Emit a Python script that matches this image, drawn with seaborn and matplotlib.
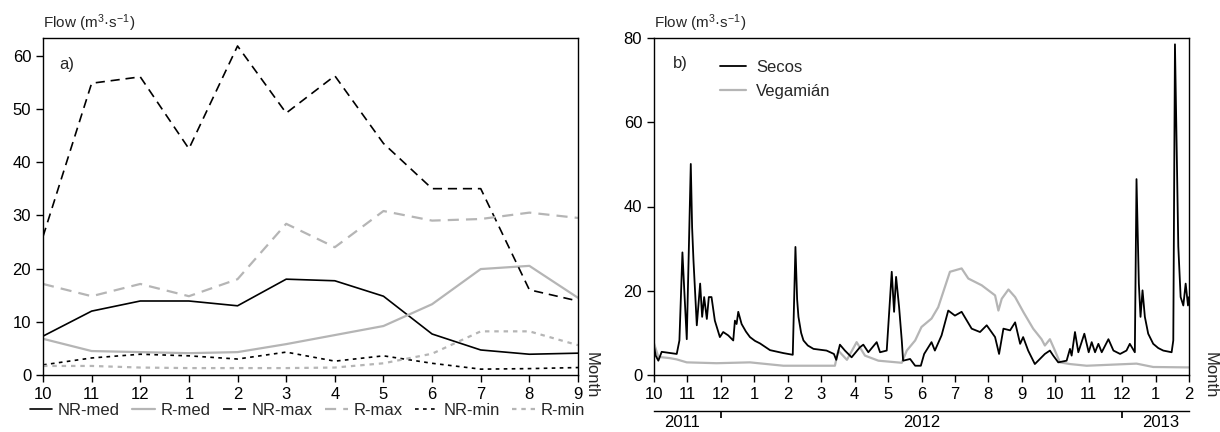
import numpy as np
import pandas as pd
import matplotlib
matplotlib.use("Agg")
import matplotlib.pyplot as plt
import seaborn as sns

# ---------------- data: panel a (monthly statistics) ----------------
month_labels_a = ["10", "11", "12", "1", "2", "3", "4", "5", "6", "7", "8", "9"]
nr_med = [7.3, 12.0, 13.9, 13.9, 13.0, 18.0, 17.7, 14.8, 7.7, 4.7, 3.9, 4.1]
r_med = [6.8, 4.5, 4.3, 4.1, 4.3, 5.8, 7.5, 9.2, 13.3, 19.9, 20.5, 14.5]
nr_max = [26.0, 54.8, 56.0, 42.5, 61.8, 49.2, 56.2, 43.5, 35.0, 35.0, 16.0, 13.9]
r_max = [17.1, 14.8, 17.1, 14.8, 18.0, 28.4, 24.0, 30.8, 29.0, 29.3, 30.5, 29.5]
nr_min = [1.9, 3.2, 3.9, 3.6, 3.0, 4.3, 2.6, 3.6, 2.2, 1.1, 1.2, 1.4]
r_min = [1.7, 1.7, 1.4, 1.3, 1.3, 1.3, 1.4, 2.2, 4.0, 8.2, 8.2, 5.6]

# ---------------- data: panel b (daily flows, months since Oct 2011) --------
month_labels_b = ["10", "11", "12", "1", "2", "3", "4", "5", "6", "7", "8",
                  "9", "10", "11", "12", "1", "2"]
secos_t = [0.00, 0.05, 0.13, 0.23, 0.68, 0.76, 0.85, 0.91, 0.98, 1.10, 1.14,
           1.18, 1.28, 1.38, 1.44, 1.50, 1.58, 1.64, 1.72, 1.82, 1.97, 2.07,
           2.22, 2.37, 2.42, 2.47, 2.52, 2.62, 2.75, 2.87, 3.02, 3.17, 3.47,
           3.87, 4.15, 4.23, 4.28, 4.32, 4.40, 4.47, 4.60, 4.77, 5.16, 5.38,
           5.45, 5.56, 5.71, 5.91, 6.16, 6.26, 6.41, 6.66, 6.76, 6.96, 7.11,
           7.18, 7.24, 7.33, 7.41, 7.45, 7.66, 7.81, 7.98, 8.08, 8.30, 8.40,
           8.60, 8.80, 9.00, 9.20, 9.50, 9.75, 9.95, 10.20, 10.32, 10.45,
           10.65, 10.80, 10.95, 11.04, 11.19, 11.39, 11.54, 11.69, 11.84,
           11.94, 12.09, 12.34, 12.44, 12.49, 12.59, 12.69, 12.87, 13.00,
           13.09, 13.19, 13.29, 13.39, 13.59, 13.74, 13.94, 14.13, 14.23,
           14.38, 14.43, 14.50, 14.55, 14.61, 14.68, 14.78, 14.93, 15.08,
           15.23, 15.48, 15.53, 15.58, 15.68, 15.75, 15.83, 15.90, 15.97,
           16.00]
secos_q = [6.8, 4.6, 3.4, 5.5, 5.0, 8.2, 29.1, 19.4, 8.5, 50.1, 35.0,
           27.3, 11.8, 21.7, 13.8, 18.5, 13.3, 18.5, 18.5, 12.9, 9.0, 10.2,
           9.4, 8.2, 12.9, 12.1, 15.0, 12.1, 10.3, 9.0, 8.1, 7.5, 5.9,
           5.2, 4.8, 30.4, 18.0, 13.8, 10.0, 8.2, 7.0, 6.2, 5.8, 5.0,
           3.6, 7.2, 5.8, 4.2, 6.6, 7.2, 5.4, 7.8, 5.4, 5.8, 24.5,
           15.0, 23.3, 16.1, 8.2, 3.4, 3.8, 2.2, 2.2, 5.0, 7.8, 5.8,
           9.4, 15.3, 14.1, 15.0, 11.0, 10.2, 11.8, 9.0, 5.0, 11.0,
           10.6, 12.5, 7.4, 9.0, 5.8, 2.6, 3.8, 5.0, 5.8,
           4.6, 3.0, 3.4, 6.2, 4.6, 10.2, 5.4, 9.8, 5.4,
           7.8, 5.4, 7.4, 5.4, 8.5, 5.8, 5.0, 5.8, 7.4,
           5.4, 46.5, 21.7, 13.8, 20.1, 13.8, 9.8, 7.4, 6.4,
           5.8, 5.4, 8.2, 78.5, 30.5, 18.5, 16.5, 21.7, 16.5,
           18.5]
vega_t = [0.00, 0.13, 0.48, 0.68, 0.98, 1.87, 2.87, 3.87, 4.87, 5.41, 5.51,
          5.77, 6.06, 6.31, 6.71, 7.41, 7.56, 7.81, 8.00, 8.30, 8.50, 8.70,
          8.85, 9.20, 9.40, 9.80, 10.20, 10.30, 10.40, 10.60, 10.80, 11.05,
          11.34, 11.59, 11.69, 11.84, 11.99, 12.14, 12.44, 12.94, 14.43,
          14.93, 16.00]
vega_q = [7.5, 4.3, 4.0, 3.7, 3.0, 2.8, 3.0, 2.2, 2.2, 2.2, 5.8,
          3.6, 7.8, 4.6, 3.4, 2.9, 5.8, 8.2, 11.4, 13.4, 16.1, 20.9,
          24.5, 25.3, 22.9, 21.3, 18.9, 15.3, 18.1, 20.3, 18.5, 14.9,
          11.0, 8.5, 7.0, 8.5, 5.8, 3.0, 2.6, 2.2, 2.7,
          1.9, 1.8]
year_labels = ["2011", "2012", "2013"]

# ---------------- style ----------------
sns.set_theme(style="ticks")
plt.rcParams["font.family"] = ["Liberation Sans", "DejaVu Sans"]
plt.rcParams["mathtext.fontset"] = "custom"
plt.rcParams["mathtext.rm"] = "Liberation Sans"
plt.rcParams["mathtext.it"] = "Liberation Sans"
plt.rcParams["axes.edgecolor"] = "black"
plt.rcParams["axes.linewidth"] = 1.0
plt.rcParams["xtick.color"] = "black"
plt.rcParams["ytick.color"] = "black"
plt.rcParams["xtick.labelsize"] = 12
plt.rcParams["ytick.labelsize"] = 12

BLACK = "#000000"
GREY = "#b5b5b5"

fig = plt.figure(figsize=(12.2, 4.32), dpi=100)
ax1 = fig.add_axes([43 / 1220, 57 / 432, 535 / 1220, 337 / 432])
ax2 = fig.add_axes([654 / 1220, 57 / 432, 535 / 1220, 337 / 432])

# ---------------- panel a ----------------
dfa = pd.DataFrame({
    "pos": np.arange(len(month_labels_a)),
    "NR-med": nr_med, "R-med": r_med, "NR-max": nr_max,
    "R-max": r_max, "NR-min": nr_min, "R-min": r_min,
})
styles = {
    "NR-med": (BLACK, "-", 1.2),
    "R-med": (GREY, "-", 1.6),
    "NR-max": (BLACK, (0, (5.5, 3.5)), 1.2),
    "R-max": (GREY, (0, (5.0, 3.2)), 1.6),
    "NR-min": (BLACK, (0, (2.2, 2.6)), 1.2),
    "R-min": (GREY, (0, (2.0, 2.2)), 1.6),
}
for name, (col, ls, lw) in styles.items():
    sns.lineplot(data=dfa, x="pos", y=name, ax=ax1, color=col, linestyle=ls,
                 linewidth=lw, label=name, estimator=None)

ax1.set_xlim(0, 11)
ax1.set_ylim(0, 63.3)
ax1.set_xticks(dfa["pos"])
ax1.set_xticklabels(month_labels_a)
ax1.set_yticks(np.arange(0, 61, 10))
ax1.set_xlabel("")
ax1.set_ylabel("")
ax1.text(0.03, 0.92, "a)", transform=ax1.transAxes, fontsize=12,
         ha="left", va="center")
ax1.text(0.0, 1.045, "Flow (m$^{3}$·s$^{-1}$)", transform=ax1.transAxes,
         fontsize=11, ha="left", va="center")
ax1.text(1.024, 0.0, "Month", transform=ax1.transAxes, fontsize=12,
         rotation=270, ha="center", va="center")
ax1.legend(loc="center", bbox_to_anchor=(0.494, -0.104), ncol=6,
           frameon=False, fontsize=12, handlelength=1.35, columnspacing=0.75,
           handletextpad=0.35)

# ---------------- panel b ----------------
dfs = pd.DataFrame({"t": secos_t, "q": secos_q})
dfv = pd.DataFrame({"t": vega_t, "q": vega_q})
sns.lineplot(data=dfv, x="t", y="q", ax=ax2, color=GREY, linewidth=1.6,
             label="Vegamián", estimator=None, sort=False)
sns.lineplot(data=dfs, x="t", y="q", ax=ax2, color=BLACK, linewidth=1.3,
             label="Secos", estimator=None, sort=False)
ax2.set_xlim(0, 16)
ax2.set_ylim(0, 80)
ax2.set_xticks(np.arange(len(month_labels_b)))
ax2.set_xticklabels(month_labels_b)
ax2.set_yticks(np.arange(0, 81, 20))
ax2.set_xlabel("")
ax2.set_ylabel("")
ax2.text(0.035, 0.925, "b)", transform=ax2.transAxes, fontsize=12,
         ha="left", va="center")
ax2.text(0.0, 1.045, "Flow (m$^{3}$·s$^{-1}$)", transform=ax2.transAxes,
         fontsize=11, ha="left", va="center")
ax2.text(1.04, 0.0, "Month", transform=ax2.transAxes, fontsize=12,
         rotation=270, ha="center", va="center")
h, l = ax2.get_legend_handles_labels()
ax2.legend([h[1], h[0]], [l[1], l[0]], loc="upper left",
           bbox_to_anchor=(0.11, 0.955), frameon=False, fontsize=12,
           handlelength=1.6, handletextpad=0.6, labelspacing=0.55,
           borderaxespad=0)

# year axis
sec = ax2.secondary_xaxis(-0.107)
sec.set_xticks([2, 14])
sec.set_xticklabels(["", ""])
sec.tick_params(axis="x", which="major", length=5, direction="out")
sec.set_xticks([0.84, 8.0, 15.14], minor=True)
sec.set_xticklabels(year_labels, minor=True)
sec.tick_params(axis="x", which="minor", length=0, pad=3, labelsize=12)

for ax in (ax1, ax2):
    for s in ax.spines.values():
        s.set_visible(True)
        s.set_linewidth(1.0)
    ax.tick_params(axis="both", length=5, width=1.0, direction="out")

fig.savefig("out.png", dpi=100)
